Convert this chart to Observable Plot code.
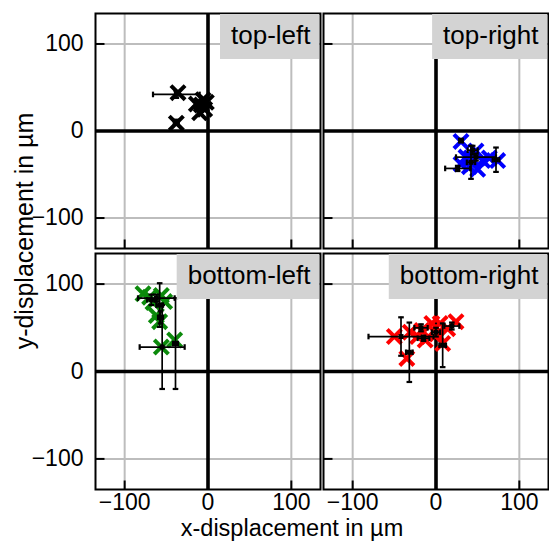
<!DOCTYPE html>
<html>
<head>
<meta charset="utf-8">
<script src="https://cdn.jsdelivr.net/npm/d3@7"></script>
<script src="https://cdn.jsdelivr.net/npm/@observablehq/plot@0.6"></script>
<style>
  html, body { margin: 0; padding: 0; background: #ffffff; }
  #chart { position: relative; width: 549px; height: 541px; overflow: hidden; background: #ffffff;
           font-family: "Liberation Sans", Arial, Helvetica, sans-serif; }
  .panel { position: absolute; }
  #titles { position: absolute; left: 0; top: 0; pointer-events: none; }
</style>
</head>
<body>
<div id="chart"></div>
<script>
// ---------------- data ----------------
const panelNames = ["top-left", "top-right", "bottom-left", "bottom-right"];
const markerColors = ["black", "blue", "#0b8a0b", "red"];
const tickValues = [-100, 0, 100];
const tickLabels = ["−100", "0", "100"];
const axisDomain = [-135, 135];
const xTitle = "x-displacement in µm";
const yTitle = "y-displacement in µm";

// individual measurements (× markers)
const tlPtX = [-36, -38, -6, -14, -4, -10, -8, -2];
const tlPtY = [44, 9, 36, 31, 25, 21, 30, 33];
const trPtX = [30, 48, 42, 64, 74, 30, 40, 50, 56, 36];
const trPtY = [-12, -23, -31, -31, -34, -38, -41, -44, -34, -30];
const blPtX = [-78, -70, -56, -52, -62, -58, -56, -40, -66];
const blPtY = [89, 85, 87, 80, 64, 57, 28, 36, 79];
const brPtX = [-50, -35, -31, -17, -13, -5, 5, 8, 14, 24, 1, -22];
const brPtY = [40, 15, 45, 47, 36, 55, 55, 32, 49, 57, 43, 40];

// mean positions with error bars (black)
const tlMeanX = [-38, -8, -38];
const tlMeanY = [42, 29, 10];
const tlErrX = [28, 5, 3];
const tlErrY = [4, 7, 3];
const trMeanX = [30, 44, 48, 72, 42, 26];
const trMeanY = [-11, -22, -30, -33, -36, -43];
const trErrX = [2, 6, 24, 4, 5, 15];
const trErrY = [2, 5, 4, 14, 19, 3];
const blMeanX = [-62, -58, -68, -57, -55, -39];
const blMeanY = [84, 76, 82, 62, 28, 32];
const blErrX = [22, 4, 5, 3, 27, 3];
const blErrY = [4, 25, 6, 7, 48, 52];
const brMeanX = [-42, -32, -18, 8, 19, 0, -15];
const brMeanY = [40, 22, 50, 30, 52, 45, 38];
const brErrX = [39, 4, 8, 4, 9, 5, 7];
const brErrY = [22, 34, 4, 25, 4, 5, 3];

const ptX = [tlPtX, trPtX, blPtX, brPtX];
const ptY = [tlPtY, trPtY, blPtY, brPtY];
const meanX = [tlMeanX, trMeanX, blMeanX, brMeanX];
const meanY = [tlMeanY, trMeanY, blMeanY, brMeanY];
const errX = [tlErrX, trErrX, blErrX, brErrX];
const errY = [tlErrY, trErrY, blErrY, brErrY];

// ---------------- symbols ----------------
const capV = { draw(ctx) { ctx.moveTo(0, -2.8); ctx.lineTo(0, 2.8); } };
const capH = { draw(ctx) { ctx.moveTo(-2.8, 0); ctx.lineTo(2.8, 0); } };
const tickUp = { draw(ctx) { ctx.moveTo(0, 0); ctx.lineTo(0, -9); } };
const tickRight = { draw(ctx) { ctx.moveTo(0, 0); ctx.lineTo(9, 0); } };

const fmt = d => tickLabels[tickValues.indexOf(d)];
const FONT = "'Liberation Sans', Arial, Helvetica, sans-serif";

// panel geometry (container placement + margins)
const layout = [
  { left: 0,   top: 0,   W: 322, H: 250, ml: 95, mr: 2, mt: 13, mb: 2 },
  { left: 321, top: 0,   W: 228, H: 250, ml: 2,  mr: 1, mt: 13, mb: 2 },
  { left: 0,   top: 250, W: 322, H: 291, ml: 95, mr: 2, mt: 3,  mb: 52 },
  { left: 321, top: 250, W: 228, H: 291, ml: 2,  mr: 1, mt: 3,  mb: 52 }
];

const chart = document.getElementById("chart");

panelNames.forEach((name, i) => {
  const L = layout[i];
  const isLeft = i % 2 === 0;
  const isBottom = i >= 2;
  const pts = ptX[i].map((x, j) => ({ x, y: ptY[i][j] }));
  const means = meanX[i].map((x, j) => ({ x, y: meanY[i][j], ex: errX[i][j], ey: errY[i][j] }));

  const svg = Plot.plot({
    width: L.W,
    height: L.H,
    marginLeft: L.ml,
    marginRight: L.mr,
    marginTop: L.mt,
    marginBottom: L.mb,
    style: { fontFamily: FONT, fontSize: "23px", color: "black", background: "transparent" },
    x: { domain: axisDomain, ticks: tickValues, tickSize: 0, tickPadding: 4, tickFormat: fmt,
         axis: isBottom ? "bottom" : null, label: null },
    y: { domain: axisDomain, ticks: tickValues, tickSize: 0, tickPadding: 12, tickFormat: fmt,
         axis: isLeft ? "left" : null, label: null },
    marks: [
      Plot.ruleX(tickValues, { stroke: "#bdbdbd", strokeWidth: 2 }),
      Plot.ruleY(tickValues, { stroke: "#bdbdbd", strokeWidth: 2 }),
      Plot.ruleX([0], { stroke: "black", strokeWidth: 3.6 }),
      Plot.ruleY([0], { stroke: "black", strokeWidth: 3.6 }),
      Plot.dot(tickValues, { x: d => d, y: () => axisDomain[0], symbol: tickUp, stroke: "black", strokeWidth: 2, fill: "none" }),
      Plot.dot(tickValues, { x: () => axisDomain[0], y: d => d, symbol: tickRight, stroke: "black", strokeWidth: 2, fill: "none" }),
      Plot.dot(pts, { x: "x", y: "y", symbol: "times", r: 6.5, stroke: markerColors[i], strokeWidth: 4 }),
      Plot.ruleY(means, { y: "y", x1: d => d.x - d.ex, x2: d => d.x + d.ex, stroke: "black", strokeWidth: 1.7 }),
      Plot.ruleX(means, { x: "x", y1: d => d.y - d.ey, y2: d => d.y + d.ey, stroke: "black", strokeWidth: 1.7 }),
      Plot.dot(means, { x: d => d.x - d.ex, y: "y", symbol: capV, stroke: "black", strokeWidth: 2.2, fill: "none" }),
      Plot.dot(means, { x: d => d.x + d.ex, y: "y", symbol: capV, stroke: "black", strokeWidth: 2.2, fill: "none" }),
      Plot.dot(means, { x: "x", y: d => d.y - d.ey, symbol: capH, stroke: "black", strokeWidth: 2.2, fill: "none" }),
      Plot.dot(means, { x: "x", y: d => d.y + d.ey, symbol: capH, stroke: "black", strokeWidth: 2.2, fill: "none" }),
      Plot.dot(means, { x: "x", y: "y", symbol: "square", r: 2.8, fill: "black" }),
      Plot.frame({ stroke: "black", strokeWidth: 2 }),
      Plot.text([name], { text: d => d, frameAnchor: "top-right", textAnchor: "end", dx: -10, dy: 12,
                          fontSize: 26, fill: "black" })
    ]
  });

  const holder = document.createElement("div");
  holder.className = "panel";
  holder.style.left = L.left + "px";
  holder.style.top = L.top + "px";
  holder.appendChild(svg);
  chart.appendChild(holder);

  // grey label box behind the panel label
  const t = Array.from(svg.querySelectorAll("text")).find(el => el.textContent === name);
  if (t) {
    let g = t;
    while (g.parentNode && g.parentNode !== svg) g = g.parentNode;
    const sb = svg.getBoundingClientRect();
    const tb = t.getBoundingClientRect();
    const right = L.W - L.mr - 1;
    const x0 = tb.left - sb.left - 11;
    const rect = document.createElementNS("http://www.w3.org/2000/svg", "rect");
    rect.setAttribute("x", x0);
    rect.setAttribute("y", L.mt + 1);
    rect.setAttribute("width", Math.max(0, right - x0));
    rect.setAttribute("height", 45);
    rect.setAttribute("fill", "#d3d3d3");
    svg.insertBefore(rect, g);
  }
});

// axis titles
const ns = "http://www.w3.org/2000/svg";
const titles = document.createElementNS(ns, "svg");
titles.setAttribute("id", "titles");
titles.setAttribute("width", 549);
titles.setAttribute("height", 541);
const xt = document.createElementNS(ns, "text");
xt.setAttribute("x", 292);
xt.setAttribute("y", 536);
xt.setAttribute("text-anchor", "middle");
xt.setAttribute("font-family", FONT);
xt.setAttribute("font-size", 23.5);
xt.textContent = xTitle;
const yt = document.createElementNS(ns, "text");
yt.setAttribute("transform", "translate(33,231) rotate(-90)");
yt.setAttribute("text-anchor", "middle");
yt.setAttribute("font-family", FONT);
yt.setAttribute("font-size", 25);
yt.textContent = yTitle;
titles.appendChild(xt);
titles.appendChild(yt);
chart.appendChild(titles);
</script>
</body>
</html>
